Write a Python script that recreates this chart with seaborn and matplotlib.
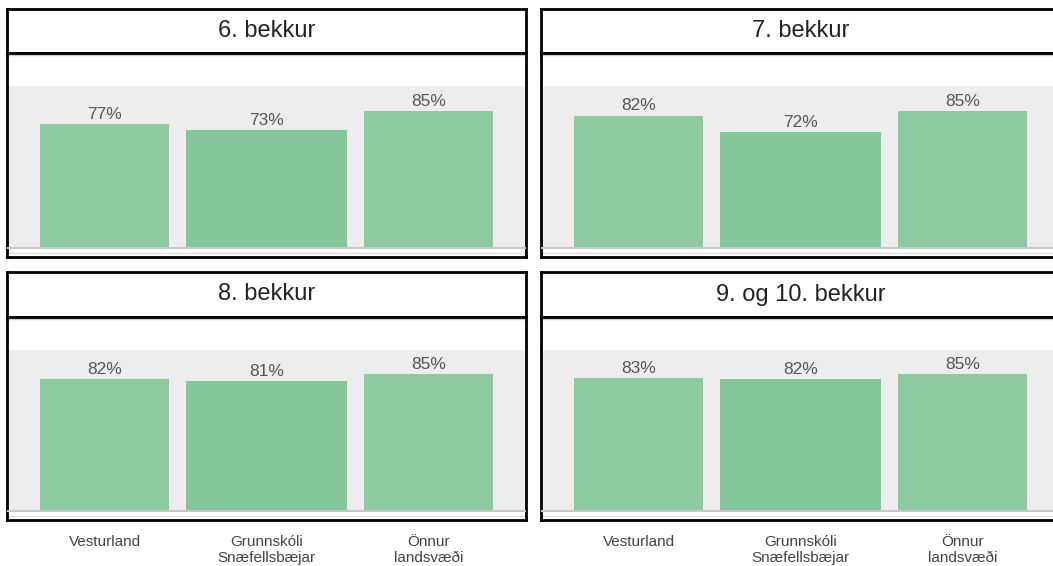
import matplotlib
matplotlib.use("Agg")
import matplotlib.pyplot as plt
import pandas as pd
import seaborn as sns

categories = ["Vesturland", "Grunnskóli\nSnæfellsbæjar", "Önnur\nlandsvæði"]
grades = ["6. bekkur", "7. bekkur", "8. bekkur", "9. og 10. bekkur"]
values = {
    "6. bekkur": [77, 73, 85],
    "7. bekkur": [82, 72, 85],
    "8. bekkur": [82, 81, 85],
    "9. og 10. bekkur": [83, 82, 85],
}
bar_colors = ["#8DCAA0", "#85C79B", "#8DCAA0"]

sns.set_style("white")
plt.rcParams['font.family'] = ['Liberation Sans', 'DejaVu Sans']

W, H = 1053, 566
fig = plt.figure(figsize=(W / 100, H / 100), dpi=100)


def fig_box(x0, y0, x1, y1):
    # pixel box -> figure fraction
    return [x0 / W, (H - y1) / H, (x1 - x0) / W, (y1 - y0) / H]


panel_x = [(7, 526), (541, 1060)]
panel_y = [((9, 53), (53, 257)), ((272, 317), (317, 520))]

for i, grade in enumerate(grades):
    row, col = divmod(i, 2)
    x0, x1 = panel_x[col]
    (ty0, ty1), (py0, py1) = panel_y[row]

    # title box
    tax = fig.add_axes(fig_box(x0, ty0, x1, ty1))
    tax.set_xticks([])
    tax.set_yticks([])
    for s in tax.spines.values():
        s.set_color("black")
        s.set_linewidth(2)
    tax.text(0.5, 0.5, grade, ha="center", va="center", fontsize=17,
             color="#222222", transform=tax.transAxes)

    # plot box
    ax = fig.add_axes(fig_box(x0, py0, x1, py1))
    df = pd.DataFrame({"cat": categories, "val": values[grade]})
    sns.barplot(data=df, x="cat", y="val", hue="cat",
                palette=dict(zip(categories, bar_colors)), legend=False,
                saturation=1, width=0.8, linewidth=0, ax=ax, zorder=3)
    bars = sorted(list(ax.patches), key=lambda p: p.get_x())
    # middle bar drawn wider
    mid = bars[1]
    c = mid.get_x() + mid.get_width() / 2
    mid.set_x(c - 0.5)
    mid.set_width(1.0)

    ax.axhspan(0, 100, color="#EDEDED", zorder=0, lw=0)
    ax.axhline(0, color="#C8C8C8", lw=1.5, zorder=4)
    ax.axhline(119.3, color="#CCCCCC", lw=1, zorder=1)
    ax.axhline(-3.2, color="#DDDDDD", lw=1, zorder=1)

    for b, v in zip(bars, values[grade]):
        ax.annotate(f"{v}%", (b.get_x() + b.get_width() / 2, v),
                    xytext=(0, 1.5), textcoords="offset points",
                    ha="center", va="bottom", fontsize=12.5, color="#555555",
                    zorder=5)

    ax.set_xlim(-0.602, 2.602)
    ax.set_ylim(-5.5, 120.7)
    ax.set_xlabel("")
    ax.set_ylabel("")
    ax.set_yticks([])
    ax.tick_params(axis="x", length=0, pad=11, labelsize=11,
                   labelcolor="#444444", labelbottom=(row == 1))
    for s in ax.spines.values():
        s.set_color("black")
        s.set_linewidth(2)
        s.set_visible(True)

fig.savefig("out.png", dpi=100)
